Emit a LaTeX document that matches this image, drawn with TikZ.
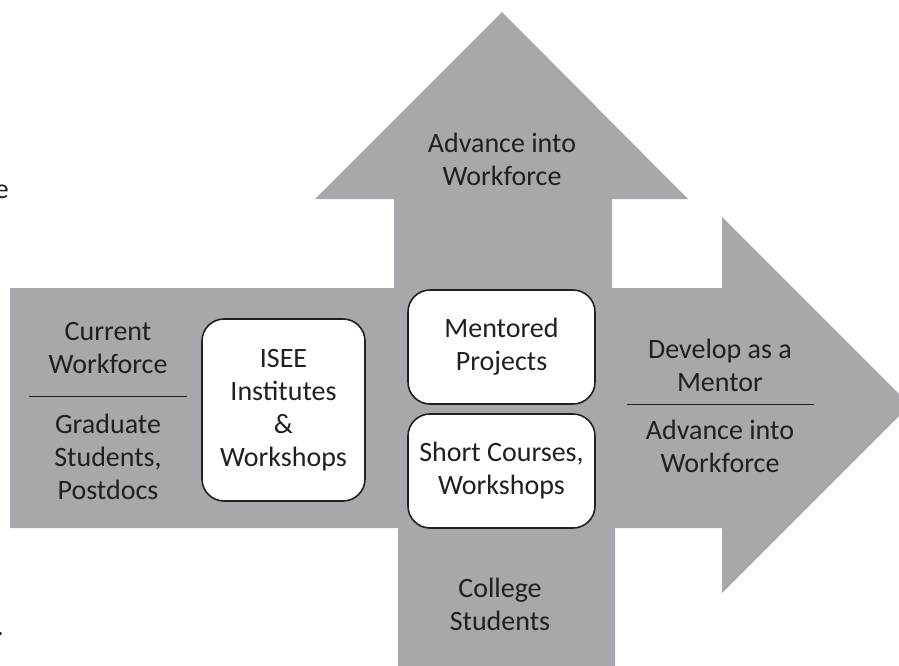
\documentclass[tikz,border=0pt]{standalone}
\usepackage{fontspec}
\setmainfont{Carlito}
\definecolor{arrowgray}{RGB}{167,168,172}
\definecolor{inkdark}{RGB}{35,31,32}

\begin{document}
\begin{tikzpicture}[
    x=1pt, y=-1pt,
    flow/.style={
        fill=arrowgray,
        draw=none
    },
    activity/.style={
        rectangle,
        draw=inkdark,
        fill=white,
        line width=1.6pt,
        rounded corners=22pt,
        inner sep=0pt,
        align=center,
        text=inkdark,
        font=\fontsize{28}{33}\selectfont
    },
    flowtext/.style={
        inner sep=0pt,
        align=center,
        text=inkdark,
        font=\fontsize{28}{33}\selectfont
    },
    divider/.style={draw=inkdark, line width=0.9pt}
]
\useasboundingbox (0,0) rectangle (899,665);

% Arrow body: up, right and down branches
\path[flow] (10,288) -- (394,288) -- (394,199) -- (315,199) -- (502,12)
    -- (688,199) -- (612,199) -- (612,288) -- (722,288) -- (722,217)
    -- (910,405) -- (722,593) -- (722,528) -- (615,528) -- (615,670)
    -- (398,670) -- (398,528) -- (10,528) -- cycle;

% Activities
\node[activity, minimum width=163pt, minimum height=182pt] (isee) at (283.5,410)
    {ISEE\\Institutes\\\&\\Workshops};
\node[activity, minimum width=187pt, minimum height=114pt] (mentored) at (501.5,347)
    {Mentored\\Projects};
\node[activity, minimum width=187pt, minimum height=114pt] (short) at (501.5,471)
    {Short Courses,\\Workshops};

% Entry points
\node[flowtext] (current) at (108,348) {Current\\Workforce};
\node[flowtext] (graduate) at (108,457) {Graduate\\Students,\\Postdocs};
\node[flowtext] (college) at (500,604) {College\\Students};

% Outcomes
\node[flowtext] (advance up) at (502,159) {Advance into\\Workforce};
\node[flowtext] (mentor) at (720,365) {Develop as a\\Mentor};
\node[flowtext] (advance right) at (720,446) {Advance into\\Workforce};

% Dividers
\coordinate (left rule w) at (29,396);
\coordinate (left rule e) at (187,396);
\coordinate (right rule w) at (627,404);
\coordinate (right rule e) at (814,404);
\draw[divider] (left rule w) -- (left rule e);
\draw[divider] (right rule w) -- (right rule e);

% Cut-off text at the left edge
\node[flowtext, anchor=base east] (frag e) at (9,198) {e};
\node[flowtext, anchor=base east] (frag dot) at (4,635) {.};

\end{tikzpicture}
\end{document}
